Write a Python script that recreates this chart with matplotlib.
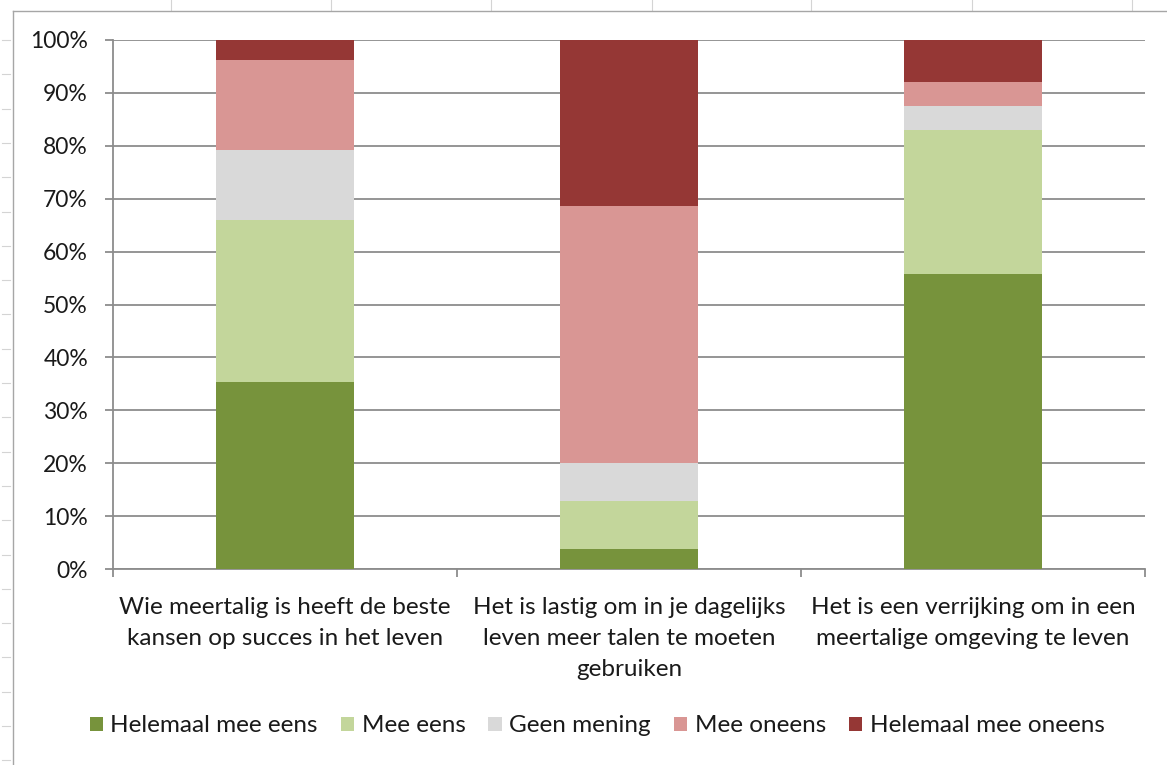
import matplotlib
matplotlib.use("Agg")
import matplotlib.pyplot as plt
from matplotlib.lines import Line2D
from matplotlib.ticker import FixedLocator, PercentFormatter
import numpy as np

plt.rcParams["font.family"] = ["Lato", "DejaVu Sans"]

# statements (x categories)
categories = [
    "Wie meertalig is heeft de beste\nkansen op succes in het leven",
    "Het is lastig om in je dagelijks\nleven meer talen te moeten\ngebruiken",
    "Het is een verrijking om in een\nmeertalige omgeving te leven",
]
answers = ["Helemaal mee eens", "Mee eens", "Geen mening", "Mee oneens", "Helemaal mee oneens"]

# share per answer (%), one value per statement
helemaal_eens = [35.3, 3.8, 55.8]
mee_eens = [30.7, 9.1, 27.2]
geen_mening = [13.2, 7.1, 4.5]
mee_oneens = [17.0, 48.6, 4.6]
helemaal_oneens = [3.8, 31.4, 7.9]
series = [helemaal_eens, mee_eens, geen_mening, mee_oneens, helemaal_oneens]

colors = ["#77933C", "#C3D69B", "#D9D9D9", "#D99694", "#953735"]
INK = "#1a1a1a"
GRID = "#8c8c8c"

W, H = 1167, 765
fig = plt.figure(figsize=(W / 100, H / 100), dpi=100)

# spreadsheet cells behind the chart
for xv in [171, 331, 491, 652, 811, 972, 1132]:
    fig.add_artist(Line2D([xv / W] * 2, [1, 1 - 10 / H], color="#d4d4d4", lw=0.8))
for yv in np.arange(40, 765, 34.3):
    fig.add_artist(Line2D([2 / W, 10 / W], [1 - yv / H] * 2, color="#d4d4d4", lw=0.8))
# chart area border
fig.add_artist(Line2D([12.5 / W, 12.5 / W], [0, 1 - 11 / H], color="#a6a6a6", lw=1.0))
fig.add_artist(Line2D([12.5 / W, 1], [1 - 11 / H] * 2, color="#a6a6a6", lw=1.0))

ax = fig.add_axes([113 / W, 1 - 569 / H, (1145 - 113) / W, (569 - 40) / H])

x = np.arange(len(categories))
bottom = np.zeros(len(categories))
for vals, col, lab in zip(series, colors, answers):
    ax.bar(x, vals, width=0.4, bottom=bottom, color=col, label=lab, zorder=3)
    bottom += np.array(vals)

ax.set_xlim(-0.5, 2.5)
ax.set_ylim(0, 100)
ax.yaxis.set_major_locator(FixedLocator(np.arange(0, 101, 10)))
ax.yaxis.set_major_formatter(PercentFormatter(decimals=0))
ax.grid(axis="y", color=GRID, lw=1.3, zorder=0)

for s in ["top", "right"]:
    ax.spines[s].set_visible(False)
for s in ["left", "bottom"]:
    ax.spines[s].set_color(GRID)
    ax.spines[s].set_linewidth(1.3)

ax.tick_params(axis="y", length=6, width=1.3, color=GRID, pad=12, labelsize=16.5, labelcolor=INK)
ax.set_xticks(x)
ax.set_xticklabels(categories, fontsize=17.5, color=INK, linespacing=1.6)
ax.tick_params(axis="x", which="major", length=0, pad=20)
ax.set_xticks([-0.5, 0.5, 1.5, 2.5], minor=True)
ax.tick_params(axis="x", which="minor", length=6, width=1.3, color=GRID)

handles, labels = ax.get_legend_handles_labels()
fig.legend(handles, labels, loc="center", bbox_to_anchor=(597 / W, 1 - 726 / H), ncol=5,
           frameon=False, fontsize=17.5, handlelength=0.55, handleheight=0.55,
           handletextpad=0.3, columnspacing=0.95, labelcolor=INK)

fig.savefig("out.png", dpi=100, facecolor="white")
